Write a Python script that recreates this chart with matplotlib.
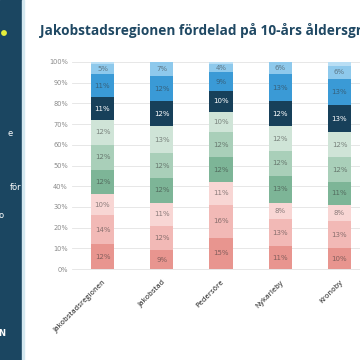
import numpy as np
import matplotlib.pyplot as plt
from matplotlib.patches import Rectangle

# data: share per 10-year age group, bottom (0-9) to top
areas = ["Jakobstadsregionen", "Jakobstad", "Pedersöre", "Nykarleby", "Kronoby"]
age_0_9 = [12, 9, 15, 11, 10]
age_10_19 = [14, 12, 16, 13, 13]
age_20_29 = [10, 11, 11, 8, 8]
age_30_39 = [12, 12, 12, 13, 11]
age_40_49 = [12, 12, 12, 12, 12]
age_50_59 = [12, 13, 10, 12, 12]
age_60_69 = [11, 12, 10, 12, 13]
age_70_79 = [11, 12, 9, 13, 13]
age_80_89 = [5, 7, 4, 6, 6]
age_90 = [1, 0, 1, 0, 2]

series = [age_0_9, age_10_19, age_20_29, age_30_39, age_40_49,
          age_50_59, age_60_69, age_70_79, age_80_89, age_90]
colors = ["#e8958f", "#f2b9b6", "#f8d6d4", "#7db597", "#a9cfb9",
          "#cfe4d7", "#17405a", "#3a9ad6", "#8ec9ec", "#b9def4"]

fig = plt.figure(figsize=(3.6, 3.6), dpi=100)
fig.patch.set_facecolor("white")

# left side panel of the slide
fig.patches.append(Rectangle((0, 0), 22 / 360, 1, transform=fig.transFigure,
                             color="#1b4661", zorder=0))
fig.patches.append(Rectangle((22 / 360, 0), 1.5 / 360, 1, transform=fig.transFigure,
                             color="#d4e8f0", zorder=0))
fig.patches.append(plt.Circle((4 / 360, 1 - 33 / 360), 2.2 / 360,
                              transform=fig.transFigure, color="#e6ef3c", zorder=1))
fig.text(13 / 360, 1 - 133 / 360, "e", color="white", fontsize=6, ha="right", va="center")
fig.text(21 / 360, 1 - 187 / 360, "för", color="white", fontsize=6, ha="right", va="center")
fig.text(4 / 360, 1 - 215 / 360, "o", color="white", fontsize=6, ha="right", va="center")
fig.text(5 / 360, 1 - 334 / 360, "N", color="white", fontsize=6, fontweight="bold",
         ha="right", va="center")

fig.text(40 / 360, 1 - 35 / 360, "Jakobstadsregionen fördelad på 10-års åldersgrupper",
         color="#1f4863", fontsize=9.85, fontweight="bold", family="Open Sans",
         ha="left", va="baseline")

ax = fig.add_axes([72 / 360, 1 - 269 / 360, 300 / 360, 207 / 360])
x = np.arange(len(areas))
bottom = np.zeros(len(areas))
for i, (vals, c) in enumerate(zip(series, colors)):
    vals = np.array(vals, dtype=float)
    ax.bar(x, vals, 0.39, bottom=bottom, color=c, zorder=2)
    for xi, v, b in zip(x, vals, bottom):
        if v >= 3:
            if i == 6:
                ax.text(xi, b + v / 2, f"{int(v)}%", ha="center", va="center",
                        fontsize=5, color="white", zorder=3)
            else:
                ax.text(xi, b + v / 2, f"{int(v)}%", ha="center", va="center",
                        fontsize=5, color="#333333", alpha=0.55, zorder=3)
    bottom += vals

ax.set_xlim(-0.515, -0.515 + 300 / 59.25)
ax.set_ylim(0, 100)
ax.set_yticks(range(0, 101, 10))
ax.set_yticklabels([f"{t}%" for t in range(0, 101, 10)], fontsize=4.8, color="#8a8a8a")
ax.yaxis.grid(True, color="#e3e3e3", linewidth=0.6, zorder=0)
ax.set_xticks(x)
ax.set_xticklabels(areas, rotation=45, ha="right", rotation_mode="anchor",
                   fontsize=5.3, color="#505050", fontweight="semibold", family="Open Sans")
ax.tick_params(axis="y", length=0, pad=3)
ax.tick_params(axis="x", length=0, pad=7)
for s in ax.spines.values():
    s.set_visible(False)
ax.spines["bottom"].set_visible(True)
ax.spines["bottom"].set_color("#e3e3e3")
ax.spines["bottom"].set_linewidth(0.6)

fig.savefig("out.png", dpi=100)
